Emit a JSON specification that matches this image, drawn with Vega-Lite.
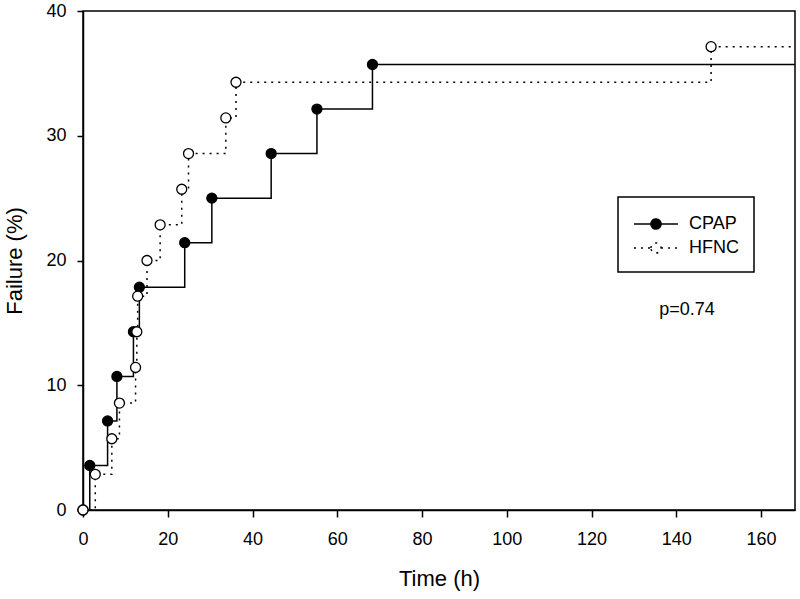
{
  "$schema": "https://vega.github.io/schema/vega-lite/v6.json",
  "width": 712,
  "height": 499,
  "autosize": {"type": "none"},
  "padding": {"left": 83, "top": 11, "right": 5, "bottom": 89},
  "background": "white",
  "config": {
    "font": "Liberation Sans",
    "view": {"stroke": "black", "strokeWidth": 1.5},
    "axis": {
      "domainColor": "black", "domainWidth": 1.5,
      "tickColor": "black", "tickWidth": 1.5, "tickSize": 7,
      "labelFontSize": 18, "labelColor": "black", "labelFlush": false,
      "titleFontSize": 22, "titleFontWeight": "normal", "titleColor": "black",
      "grid": false
    },
    "legend": {
      "orient": "none", "legendX": 535, "legendY": 186,
      "strokeColor": "black", "strokeWidth": 1.5, "padding": 15,
      "labelFontSize": 18, "labelColor": "black", "labelOffset": 21,
      "symbolOffset": 11,
      "symbolStrokeWidth": 1.5, "symbolStrokeColor": "black", "rowPadding": 3
    }
  },
  "datasets": {
    "km": [
      {"group": "CPAP", "time": 0, "failure": 0},
      {"group": "CPAP", "time": 1.6, "failure": 3.57},
      {"group": "CPAP", "time": 5.8, "failure": 7.14},
      {"group": "CPAP", "time": 8.0, "failure": 10.71},
      {"group": "CPAP", "time": 11.9, "failure": 14.29},
      {"group": "CPAP", "time": 13.3, "failure": 17.86},
      {"group": "CPAP", "time": 24.0, "failure": 21.43},
      {"group": "CPAP", "time": 30.4, "failure": 25.0},
      {"group": "CPAP", "time": 44.4, "failure": 28.57},
      {"group": "CPAP", "time": 55.2, "failure": 32.14},
      {"group": "CPAP", "time": 68.3, "failure": 35.71},
      {"group": "CPAP", "time": 168, "failure": 35.71},
      {"group": "HFNC", "time": 0, "failure": 0},
      {"group": "HFNC", "time": 2.9, "failure": 2.86},
      {"group": "HFNC", "time": 6.8, "failure": 5.71},
      {"group": "HFNC", "time": 8.6, "failure": 8.57},
      {"group": "HFNC", "time": 12.4, "failure": 11.43},
      {"group": "HFNC", "time": 12.7, "failure": 14.29},
      {"group": "HFNC", "time": 12.9, "failure": 17.14},
      {"group": "HFNC", "time": 15.1, "failure": 20.0},
      {"group": "HFNC", "time": 18.2, "failure": 22.86},
      {"group": "HFNC", "time": 23.3, "failure": 25.71},
      {"group": "HFNC", "time": 24.9, "failure": 28.57},
      {"group": "HFNC", "time": 33.7, "failure": 31.43},
      {"group": "HFNC", "time": 36.1, "failure": 34.29},
      {"group": "HFNC", "time": 148.2, "failure": 37.14},
      {"group": "HFNC", "time": 168, "failure": 37.14}
    ]
  },
  "layer": [
    {
      "data": {"name": "km"},
      "mark": {"type": "line", "interpolate": "step-after", "color": "black", "strokeWidth": 1.5},
      "encoding": {
        "x": {"field": "time", "type": "quantitative",
              "scale": {"domain": [0, 168], "nice": false, "zero": true},
              "axis": {"values": [0, 20, 40, 60, 80, 100, 120, 140, 160], "title": "Time (h)", "labelPadding": 13, "titlePadding": 20}},
        "y": {"field": "failure", "type": "quantitative",
              "scale": {"domain": [0, 40], "nice": false},
              "axis": {"values": [0, 10, 20, 30, 40], "title": "Failure (%)", "tickSize": 6, "labelPadding": 11, "titlePadding": 19}},
        "strokeDash": {"field": "group", "type": "nominal",
              "scale": {"domain": ["CPAP", "HFNC"], "range": [[1, 0], [2, 5]]},
              "legend": {"title": null, "symbolType": "M-2,0H-0.46M0.46,0H2M-0.46,0A0.46,0.46,0,1,1,0.46,0A0.46,0.46,0,1,1,-0.46,0Z", "symbolSize": 484}}
      }
    },
    {
      "data": {"name": "km"},
      "transform": [{"filter": "datum.time < 168"}],
      "mark": {"type": "point", "shape": "circle", "size": 100, "filled": true, "stroke": "black", "strokeWidth": 1.3, "opacity": 1},
      "encoding": {
        "x": {"field": "time", "type": "quantitative"},
        "y": {"field": "failure", "type": "quantitative"},
        "fill": {"field": "group", "type": "nominal",
              "scale": {"domain": ["CPAP", "HFNC"], "range": ["black", "white"]},
              "legend": {"title": null, "symbolType": "M-2,0H-0.46M0.46,0H2M-0.46,0A0.46,0.46,0,1,1,0.46,0A0.46,0.46,0,1,1,-0.46,0Z", "symbolSize": 484}}
      }
    },
    {
      "data": {"values": [{"label": "p=0.74"}]},
      "mark": {"type": "text", "fontSize": 18, "color": "black", "align": "center", "baseline": "middle"},
      "encoding": {
        "x": {"datum": 142.5, "type": "quantitative"},
        "y": {"datum": 16, "type": "quantitative"},
        "text": {"field": "label", "type": "nominal"}
      }
    }
  ]
}
